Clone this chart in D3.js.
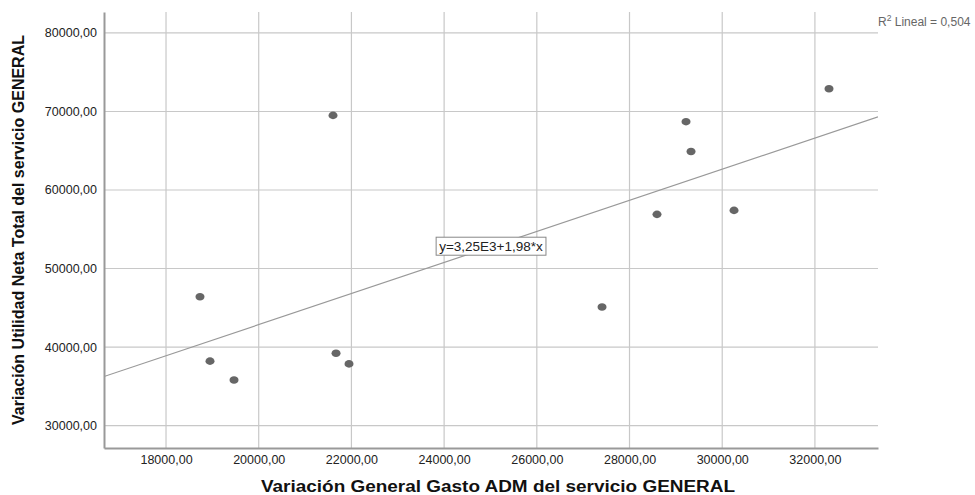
<!DOCTYPE html>
<html>
<head>
<meta charset="utf-8">
<script src="https://cdn.jsdelivr.net/npm/d3@7"></script>
<style>
  body { margin: 0; background: #fff; }
  svg { display: block; font-family: "Liberation Sans", Arial, sans-serif; }
</style>
</head>
<body>
<svg id="chart" width="975" height="495"></svg>
<script>
// data
const gastoAdm = [18733, 18949, 19467, 21603, 21668, 21948, 27407, 28593, 29219, 29327, 30255, 32304];
const utilidadNeta = [46400, 38200, 35800, 69500, 39200, 37850, 45100, 56900, 68700, 64900, 57400, 72900];
const xTicks = [18000, 20000, 22000, 24000, 26000, 28000, 30000, 32000];
const yTicks = [30000, 40000, 50000, 60000, 70000, 80000];
const fitIntercept = 3250;
const fitSlope = 1.98;
const fitLabel = 'y=3,25E3+1,98*x';
const r2Label = ['R', '2', ' Lineal = 0,504'];

const plotL = 104, plotR = 878, plotT = 12, plotB = 448;

const svg = d3.select('#chart');

const x = d3.scaleLinear().domain([16662, 33361]).range([plotL, plotR]);
const y = d3.scaleLinear().domain([27140, 82670]).range([plotB, plotT]);

const fmt = v => v.toFixed(2).replace('.', ',');

// grid
svg.append('g').selectAll('line').data(xTicks).join('line')
    .attr('x1', d => x(d)).attr('x2', d => x(d))
    .attr('y1', plotT).attr('y2', plotB)
    .attr('stroke', '#c8c8c8').attr('stroke-width', 1.2);

svg.append('g').selectAll('line').data(yTicks).join('line')
    .attr('x1', plotL).attr('x2', plotR)
    .attr('y1', d => y(d)).attr('y2', d => y(d))
    .attr('stroke', '#c8c8c8').attr('stroke-width', 1.2);

// axes (no tick marks, just the labels)
const xAxis = svg.append('g')
    .attr('transform', `translate(0,${plotB})`)
    .call(d3.axisBottom(x).tickValues(xTicks).tickFormat(fmt).tickSize(0).tickPadding(7));
const yAxis = svg.append('g')
    .attr('transform', `translate(${plotL},0)`)
    .call(d3.axisLeft(y).tickValues(yTicks).tickFormat(fmt).tickSize(0).tickPadding(7));

[xAxis, yAxis].forEach(g => {
  g.select('.domain').attr('stroke', '#999').attr('stroke-width', 2);
  g.selectAll('text')
      .attr('font-family', '"Liberation Sans", Arial, sans-serif')
      .attr('font-size', 12.5).attr('fill', '#222');
});

// fit line
svg.append('clipPath').attr('id', 'plot')
  .append('rect').attr('x', plotL).attr('y', plotT)
  .attr('width', plotR - plotL).attr('height', plotB - plotT);

const xd = x.domain();
svg.append('line')
    .attr('clip-path', 'url(#plot)')
    .attr('x1', x(xd[0])).attr('y1', y(fitIntercept + fitSlope * xd[0]))
    .attr('x2', x(xd[1])).attr('y2', y(fitIntercept + fitSlope * xd[1]))
    .attr('stroke', '#999').attr('stroke-width', 1.2);

// points
svg.append('g').selectAll('ellipse').data(gastoAdm).join('ellipse')
    .attr('cx', d => x(d))
    .attr('cy', (d, i) => y(utilidadNeta[i]))
    .attr('rx', 4.5).attr('ry', 3.8)
    .attr('fill', '#666');

// equation box
const eq = svg.append('g');
const eqText = eq.append('text')
    .attr('x', x(25010)).attr('y', y(52840) + 4.5)
    .attr('text-anchor', 'middle')
    .attr('font-size', 13.5).attr('fill', '#222')
    .text(fitLabel);
const bb = eqText.node().getBBox();
eq.insert('rect', 'text')
    .attr('x', bb.x - 3).attr('y', bb.y - 1.5)
    .attr('width', bb.width + 6).attr('height', bb.height + 3)
    .attr('fill', '#fff').attr('stroke', '#888').attr('stroke-width', 1);

// R squared
const r2 = svg.append('text').attr('x', 878).attr('y', 26)
    .attr('font-size', 12).attr('fill', '#666');
r2.append('tspan').text(r2Label[0]);
r2.append('tspan').attr('dy', -5).attr('font-size', 8.5).text(r2Label[1]);
r2.append('tspan').attr('dy', 5).text(r2Label[2]);

// axis titles
svg.append('text')
    .attr('x', 498).attr('y', 492)
    .attr('text-anchor', 'middle')
    .attr('font-size', 16).attr('font-weight', 'bold').attr('fill', '#111')
    .attr('textLength', 474).attr('lengthAdjust', 'spacingAndGlyphs')
    .text('Variación General Gasto ADM del servicio GENERAL');

svg.append('text')
    .attr('transform', 'translate(24,230) rotate(-90)')
    .attr('text-anchor', 'middle')
    .attr('font-size', 16).attr('font-weight', 'bold').attr('fill', '#111')
    .text('Variación Utilidad Neta Total del servicio GENERAL');
</script>
</body>
</html>
